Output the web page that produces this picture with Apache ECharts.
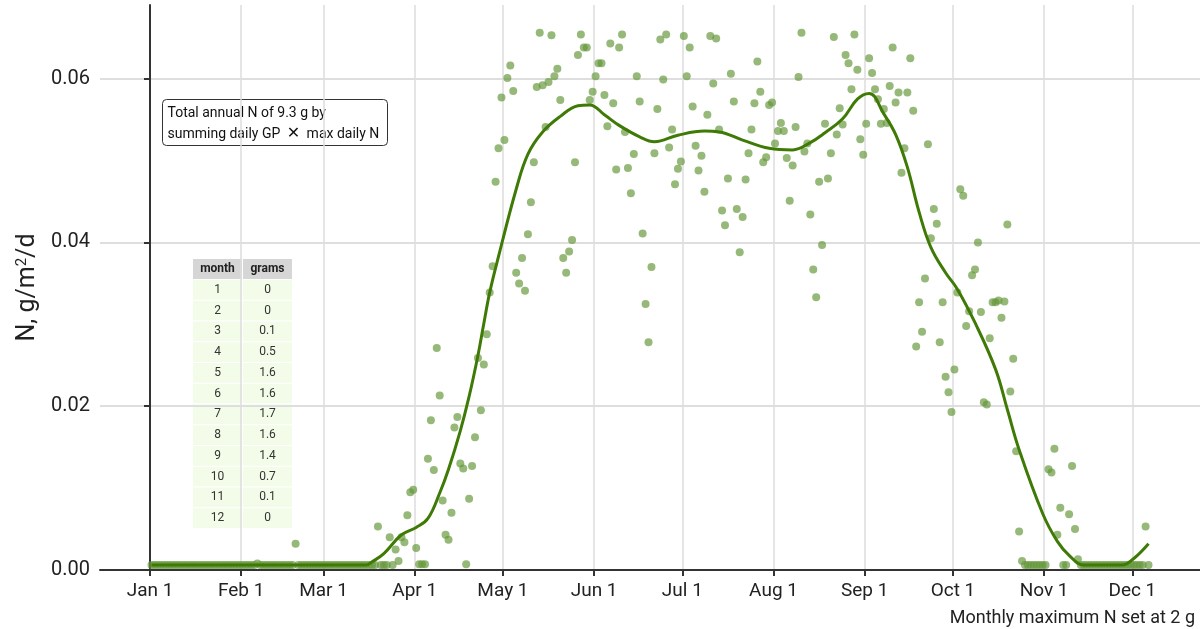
<!DOCTYPE html>
<html>
<head>
<meta charset="utf-8">
<title>Daily N</title>
<script src="https://cdn.jsdelivr.net/npm/echarts@6/dist/echarts.min.js"></script>
<style>
  html, body { margin: 0; padding: 0; background: #fff; }
  #chart { width: 1200px; height: 629px; }
</style>
</head>
<body>
<div id="chart"></div>
<script>
// x ticks: first day of each month (day of year, Jan 1 = 0)
const tickDays = [0, 31, 59, 90, 120, 151, 181, 212, 243, 273, 304, 334]
const tickLabels = ['Jan 1', 'Feb 1', 'Mar 1', 'Apr 1', 'May 1', 'Jun 1', 'Jul 1', 'Aug 1', 'Sep 1', 'Oct 1', 'Nov 1', 'Dec 1']
const yTicks = [0, 0.02, 0.04, 0.06]

// daily N (g/m2/d), one value per day of the month
const janN = [0.0006, 0.0006, 0.0006, 0.0006, 0.0006, 0.0006, 0.0006, 0.0006, 0.0006, 0.0006, 0.0006, 0.0006, 0.0006, 0.0006, 0.0006, 0.0006,
  0.0006, 0.0006, 0.0006, 0.0006, 0.0006, 0.0006, 0.0006, 0.0006, 0.0006, 0.0006, 0.0006, 0.0006, 0.0006, 0.0006, 0.0006]
const febN = [0.0006, 0.0006, 0.0006, 0.0006, 0.0006, 0.0008, 0.0006, 0.0006, 0.0006, 0.0006, 0.0006, 0.0006, 0.0006, 0.0006,
  0.0006, 0.0006, 0.0006, 0.0006, 0.0032, 0.0006, 0.0006, 0.0006, 0.0006, 0.0006, 0.0006, 0.0006, 0.0006, 0.0006]
const marN = [0.0006, 0.0006, 0.0006, 0.0006, 0.0006, 0.0006, 0.0006, 0.0006, 0.0006, 0.0006, 0.0006, 0.0006, 0.0006, 0.0006, 0.0006,
  0.0006, 0.0006, 0.0006, 0.0053, 0.0006, 0.0006, 0.0006, 0.0040, 0.0006, 0.0025, 0.0011, 0.0040, 0.0034, 0.0067, 0.0095, 0.0098]
const aprN = [0.0027, 0.0007, 0.0007, 0.0007, 0.0136, 0.0183, 0.0122, 0.0271, 0.0213, 0.0085, 0.0043, 0.0037, 0.0070, 0.0174, 0.0187,
  0.0130, 0.0124, 0.0007, 0.0087, 0.0127, 0.0162, 0.0259, 0.0195, 0.0251, 0.0288, 0.0339, 0.0371, 0.0474, 0.0515, 0.0577]
const mayN = [0.0525, 0.0601, 0.0616, 0.0585, 0.0363, 0.0350, 0.0381, 0.0341, 0.0410, 0.0449, 0.0498, 0.0590, 0.0656, 0.0592, 0.0541, 0.0596,
  0.0653, 0.0603, 0.0612, 0.0574, 0.0381, 0.0363, 0.0389, 0.0403, 0.0498, 0.0629, 0.0654, 0.0638, 0.0638, 0.0574, 0.0584]
const junN = [0.0603, 0.0619, 0.0619, 0.0580, 0.0542, 0.0643, 0.0570, 0.0489, 0.0638, 0.0654, 0.0535, 0.0491, 0.0460, 0.0508, 0.0603,
  0.0572, 0.0411, 0.0325, 0.0278, 0.0370, 0.0509, 0.0563, 0.0648, 0.0599, 0.0654, 0.0516, 0.0538, 0.0471, 0.0490, 0.0499]
const julN = [0.0652, 0.0603, 0.0638, 0.0566, 0.0518, 0.0488, 0.0506, 0.0462, 0.0556, 0.0652, 0.0594, 0.0649, 0.0538, 0.0439, 0.0421, 0.0478,
  0.0606, 0.0572, 0.0441, 0.0388, 0.0431, 0.0477, 0.0509, 0.0538, 0.0570, 0.0621, 0.0584, 0.0498, 0.0504, 0.0568, 0.0571]
const augN = [0.0521, 0.0536, 0.0546, 0.0536, 0.0503, 0.0451, 0.0494, 0.0541, 0.0602, 0.0656, 0.0511, 0.0521, 0.0434, 0.0367, 0.0333, 0.0474,
  0.0397, 0.0545, 0.0478, 0.0509, 0.0651, 0.0532, 0.0564, 0.0544, 0.0629, 0.0619, 0.0587, 0.0654, 0.0611, 0.0526, 0.0507]
const sepN = [0.0545, 0.0625, 0.0607, 0.0587, 0.0575, 0.0545, 0.0563, 0.0546, 0.0591, 0.0638, 0.0571, 0.0583, 0.0485, 0.0515, 0.0583,
  0.0625, 0.0561, 0.0273, 0.0327, 0.0291, 0.0356, 0.0520, 0.0405, 0.0441, 0.0423, 0.0278, 0.0327, 0.0236, 0.0217, 0.0193]
const octN = [0.0245, 0.0339, 0.0465, 0.0457, 0.0298, 0.0316, 0.0360, 0.0367, 0.0400, 0.0315, 0.0205, 0.0202, 0.0283, 0.0327, 0.0327, 0.0329,
  0.0308, 0.0328, 0.0422, 0.0218, 0.0258, 0.0145, 0.0047, 0.0011, 0.0006, 0.0006, 0.0006, 0.0006, 0.0006, 0.0006, 0.0006]
const novN = [0.0006, 0.0123, 0.0119, 0.0148, 0.0043, 0.0076, 0.0006, 0.0006, 0.0068, 0.0127, 0.0050, 0.0013, 0.0006, 0.0006, 0.0006,
  0.0006, 0.0006, 0.0006, 0.0006, 0.0006, 0.0006, 0.0006, 0.0006, 0.0006, 0.0006, 0.0006, 0.0006, 0.0006, 0.0006, 0.0006]
const decN = [0.0006, 0.0006, 0.0006, 0.0006, 0.0053, 0.0006]

// smoothed fit
const smoothDays = [0, 73, 75, 79, 85, 90, 94, 98, 101, 105, 108, 111, 113, 115, 118, 124, 128, 133, 139, 145, 149, 154, 159, 166, 171,
  179, 188, 193, 201, 210, 218, 224, 229, 235, 240, 244, 249, 253, 257, 261, 265, 270, 274, 280, 287, 291, 295, 303, 308, 312, 317, 330, 334, 339]
const smoothN = [0.0006, 0.0006, 0.0010, 0.0020, 0.0043, 0.0052, 0.0063, 0.0094, 0.0123, 0.0170, 0.0212, 0.0262, 0.0301, 0.0339, 0.0383,
  0.0465, 0.0508, 0.0535, 0.0554, 0.0567, 0.0568, 0.0556, 0.0543, 0.0529, 0.0523, 0.0531, 0.0536, 0.0535, 0.0525, 0.0515, 0.0513, 0.0522,
  0.0534, 0.0551, 0.0575, 0.0582, 0.0557, 0.0532, 0.0492, 0.0437, 0.0394, 0.0363, 0.0343, 0.0302, 0.0245, 0.0196, 0.0147, 0.0069, 0.0035,
  0.0018, 0.0006, 0.0006, 0.0014, 0.0032]

// monthly totals table
const tableMonth = ['1', '2', '3', '4', '5', '6', '7', '8', '9', '10', '11', '12']
const tableGrams = ['0', '0', '0.1', '0.5', '1.6', '1.6', '1.7', '1.6', '1.4', '0.7', '0.1', '0']

const FONT = 'Roboto, "Liberation Sans", sans-serif'

let monthlyN = [janN, febN, marN, aprN, mayN, junN, julN, augN, sepN, octN, novN, decN]
let points = []
monthlyN.forEach(function (vals, m) {
  vals.forEach(function (v, i) {
    // plotted at mid-day
    points.push([tickDays[m] + i + 0.5, v])
  })
})
let curve = smoothDays.map(function (d, i) { return [d + 0.5, smoothN[i]] })

// table drawn as graphic cells, relative to its top-left corner
let tableEls = []
const colW = 50, headH = 21, rowH = 20.75
const heads = ['month', 'grams']
heads.forEach(function (h, c) {
  tableEls.push({
    type: 'rect', shape: { x: c * colW, y: 0, width: colW, height: headH },
    style: { fill: '#d6d6d6', stroke: '#fff', lineWidth: 1 }
  })
  tableEls.push({
    type: 'text', x: c * colW + colW / 2, y: headH / 2,
    style: { text: h, fontSize: 12, fontWeight: 'bold', fill: '#222', align: 'center', verticalAlign: 'middle', fontFamily: FONT }
  })
})
tableMonth.forEach(function (m, r) {
  [m, tableGrams[r]].forEach(function (t, c) {
    let y0 = headH + r * rowH
    tableEls.push({
      type: 'rect', shape: { x: c * colW, y: y0, width: colW, height: rowH },
      style: { fill: '#f2fce8', stroke: '#fff', lineWidth: 1 }
    })
    tableEls.push({
      type: 'text', x: c * colW + colW / 2, y: y0 + rowH / 2,
      style: { text: t, fontSize: 12, fill: '#333', align: 'center', verticalAlign: 'middle', fontFamily: FONT }
    })
  })
})

let myChart = echarts.init(document.getElementById('chart'))

let option = {
  animation: false,
  backgroundColor: '#fff',
  textStyle: { fontFamily: FONT },
  grid: { left: 100, right: 0, top: 5, bottom: 59, outerBoundsMode: 'none' },
  xAxis: {
    type: 'value',
    min: -17,
    max: 357,
    axisLine: { show: true, onZero: false, lineStyle: { color: '#333', width: 2 } },
    axisTick: { show: true, customValues: tickDays, length: 6, lineStyle: { color: '#333', width: 2 } },
    axisLabel: {
      customValues: tickDays,
      formatter: function (v) { return tickLabels[tickDays.indexOf(v)] },
      fontSize: 19, color: '#222', margin: 12, fontFamily: FONT
    },
    splitLine: { show: true, lineStyle: { color: '#dcdcdc', width: 1.5 } }
  },
  yAxis: {
    type: 'value',
    min: 0,
    max: 0.069,
    interval: 0.02,
    name: 'N, g/m{sup|2}/d',
    nameLocation: 'middle',
    nameRotate: 90,
    nameGap: 56,
    nameTextStyle: {
      fontSize: 25, color: '#222', fontFamily: FONT,
      rich: { sup: { fontSize: 15, color: '#222', fontFamily: FONT, verticalAlign: 'top', lineHeight: 18 } }
    },
    axisLine: { show: true, lineStyle: { color: '#333', width: 2 } },
    axisTick: { show: true, customValues: yTicks, length: 6, lineStyle: { color: '#333', width: 2 } },
    axisLabel: {
      customValues: yTicks,
      formatter: function (v) { return v.toFixed(2) },
      fontSize: 20, color: '#222', margin: 10, fontFamily: FONT
    },
    splitLine: { show: true, lineStyle: { color: '#dedede', width: 2 } }
  },
  series: [
    {
      name: 'daily N',
      type: 'scatter',
      data: points,
      symbolSize: 8,
      itemStyle: { color: '#64973a', opacity: 0.68 },
      z: 2
    },
    {
      name: 'smooth',
      type: 'line',
      data: curve,
      showSymbol: false,
      symbol: 'none',
      smooth: 0.4,
      lineStyle: { color: '#3f7a06', width: 3 },
      z: 3
    }
  ],
  graphic: [
    {
      type: 'group',
      left: 162,
      top: 99,
      children: [
        {
          type: 'rect', shape: { x: 0, y: 0, width: 225, height: 46, r: 4 },
          style: { fill: '#fff', stroke: '#333', lineWidth: 1 }
        },
        {
          type: 'text', x: 5, y: 3,
          style: {
            text: 'Total annual N of 9.3 g by\nsumming daily GP {x|✕} max daily N',
            fontSize: 14, lineHeight: 21, fill: '#111', fontFamily: FONT,
            rich: { x: { fontSize: 16, lineHeight: 21, fill: '#111', padding: [0, 3, 0, 3], fontFamily: 'DejaVu Sans' } }
          }
        }
      ]
    },
    { type: 'group', left: 192, top: 258, children: tableEls },
    {
      type: 'text',
      right: 5,
      top: 609,
      style: { text: 'Monthly maximum N set at 2 g', fontSize: 18, fill: '#222', fontFamily: FONT }
    }
  ]
}
myChart.setOption(option)
window.addEventListener('resize', function () {
  myChart.resize()
})
</script>
</body>
</html>
